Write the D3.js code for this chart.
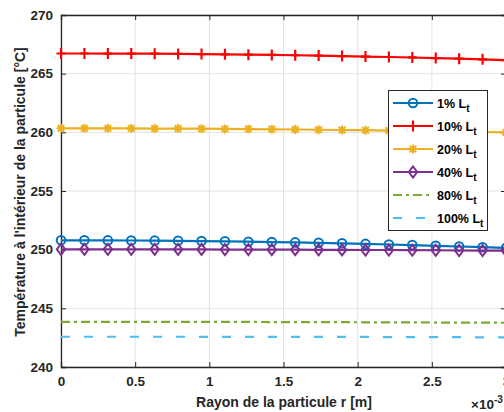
<!DOCTYPE html>
<html><head><meta charset="utf-8">
<script src="https://cdn.jsdelivr.net/npm/d3@7"></script>
<style>
html,body{margin:0;padding:0;background:#fff;}
svg{display:block;font-family:"Liberation Sans",Arial,sans-serif;}
</style></head>
<body><svg id="c" width="504" height="412"></svg>
<script>
const rValues = d3.range(20).map(i => i * 3e-3 / 19);
const xTicks = [0, 0.5e-3, 1e-3, 1.5e-3, 2e-3, 2.5e-3, 3e-3];
const xTickLabels = ["0", "0.5", "1", "1.5", "2", "2.5", "3"];
const yTicks = [240, 245, 250, 255, 260, 265, 270];
const seriesNames = ["1%", "10%", "20%", "40%", "80%", "100%"];
const s1 = [250.80,250.80,250.79,250.78,250.77,250.75,250.73,250.71,250.68,250.65,250.62,250.58,250.54,250.49,250.44,250.39,250.33,250.27,250.21,250.14];
const s10 = [266.72,266.72,266.71,266.71,266.70,266.68,266.67,266.65,266.62,266.60,266.57,266.54,266.50,266.46,266.42,266.38,266.33,266.28,266.22,266.15];
const s20 = [260.34,260.34,260.34,260.33,260.32,260.32,260.31,260.29,260.28,260.26,260.24,260.22,260.20,260.18,260.15,260.12,260.09,260.06,260.03,259.99];
const s40 = [250.03,250.03,250.03,250.03,250.03,250.02,250.02,250.01,250.01,250.00,250.00,249.99,249.98,249.97,249.97,249.96,249.95,249.93,249.92,249.91];
const s80 = [243.85,243.85,243.85,243.85,243.85,243.84,243.84,243.84,243.84,243.83,243.83,243.82,243.82,243.81,243.81,243.80,243.79,243.79,243.78,243.77];
const s100 = [242.58,242.58,242.58,242.58,242.58,242.58,242.57,242.57,242.57,242.57,242.57,242.56,242.56,242.56,242.55,242.55,242.54,242.54,242.53,242.53];

const series = [
  {name: seriesNames[0], values: s1, color: "#0072BD", marker: "o", dash: null},
  {name: seriesNames[1], values: s10, color: "#FF0000", marker: "+", dash: null},
  {name: seriesNames[2], values: s20, color: "#EDB120", marker: "*", dash: null},
  {name: seriesNames[3], values: s40, color: "#7E2F8E", marker: "d", dash: null},
  {name: seriesNames[4], values: s80, color: "#77AC30", marker: null, dash: "9,4,3,4"},
  {name: seriesNames[5], values: s100, color: "#4DBEEE", marker: null, dash: "9,14"}
];

const svg = d3.select("#c");
const L = 61, R = 506, T = 15, B = 367;
const x = d3.scaleLinear().domain([0, 3e-3]).range([L, R]);
const y = d3.scaleLinear().domain([240, 270]).range([B, T]);
const axisCol = "#262626";

// grid
const g = svg.append("g");
g.selectAll("line.gx").data(xTicks).enter().append("line")
  .attr("x1", d => x(d)).attr("x2", d => x(d)).attr("y1", T).attr("y2", B)
  .attr("stroke", "#e3e3e3").attr("stroke-width", 1);
g.selectAll("line.gy").data(yTicks).enter().append("line")
  .attr("x1", L).attr("x2", R).attr("y1", d => y(d)).attr("y2", d => y(d))
  .attr("stroke", "#e3e3e3").attr("stroke-width", 1);

// axes
const xAxisB = d3.axisBottom(x).tickValues(xTicks).tickSize(-5).tickPadding(9).tickFormat((d,i) => xTickLabels[i]);
const xAxisT = d3.axisTop(x).tickValues(xTicks).tickSize(-5).tickFormat("");
const yAxisL = d3.axisLeft(y).tickValues(yTicks).tickSize(-5).tickPadding(8);
const yAxisR = d3.axisRight(y).tickValues(yTicks).tickSize(-5).tickFormat("");
function styleAxis(sel){
  sel.select(".domain").attr("stroke", axisCol).attr("stroke-width", 1.3);
  sel.selectAll(".tick line").attr("stroke", axisCol).attr("stroke-width", 1);
  sel.selectAll(".tick text").attr("fill", axisCol).style("font-size", "13.5px").style("font-weight", "bold").style("font-family", '"Liberation Sans",Arial,sans-serif');
}
svg.append("g").attr("transform", `translate(0,${B})`).call(xAxisB).call(styleAxis);
svg.append("g").attr("transform", `translate(0,${T})`).call(xAxisT).call(styleAxis);
svg.append("g").attr("transform", `translate(${L},0)`).call(yAxisL).call(styleAxis);
svg.append("g").attr("transform", `translate(${R},0)`).call(yAxisR).call(styleAxis);
svg.selectAll(".domain").attr("d", function(){ return d3.select(this).attr("d").replace(/M[^H]*H/, m=>m); });

// lines
const line = d3.line().x((d,i) => x(rValues[i])).y(d => y(d));
function drawMarker(sel, type, color){
  if (type === "o") {
    sel.append("circle").attr("r", 4.3).attr("fill", "none").attr("stroke", color).attr("stroke-width", 2);
  } else if (type === "+") {
    sel.append("path").attr("d", "M-4.5,0H4.5M0,-5.5V5.5").attr("stroke", color).attr("stroke-width", 2.2).attr("fill", "none");
  } else if (type === "*") {
    sel.append("path").attr("d", "M-4.5,0H4.5M0,-4.5V4.5M-3.3,-3.3L3.3,3.3M-3.3,3.3L3.3,-3.3").attr("stroke", color).attr("stroke-width", 2).attr("fill", "none");
  } else if (type === "d") {
    sel.append("path").attr("d", "M0,-5.5L4.2,0L0,5.5L-4.2,0Z").attr("stroke", color).attr("stroke-width", 2).attr("fill", "none");
  }
}
const plot = svg.append("g");
series.forEach(s => {
  const p = plot.append("path").datum(s.values).attr("d", line)
    .attr("fill", "none").attr("stroke", s.color).attr("stroke-width", 2.2);
  if (s.dash) p.attr("stroke-dasharray", s.dash);
  if (s.marker) {
    plot.selectAll(null).data(s.values).enter().append("g")
      .attr("transform", (d,i) => `translate(${x(rValues[i])},${y(d)})`)
      .each(function(){ drawMarker(d3.select(this), s.marker, s.color); });
  }
});

// labels
svg.append("text").attr("x", 284).attr("y", 407).attr("text-anchor", "middle")
  .style("font-size", "14px").style("font-weight", "bold").attr("fill", axisCol)
  .text("Rayon de la particule r [m]");
svg.append("text").attr("transform", "translate(25,192) rotate(-90)").attr("text-anchor", "middle")
  .style("font-size", "14px").style("font-weight", "bold").attr("fill", axisCol)
  .text("Température à l'intérieur de la particule [°C]");
const ex = svg.append("text").attr("x", 471).attr("y", 409).style("font-size", "13.5px").style("font-weight", "bold").attr("fill", axisCol);
ex.append("tspan").text("×10");
ex.append("tspan").attr("dy", -6).style("font-size", "10px").text("-3");

// legend
const lg = svg.append("g");
lg.append("rect").attr("x", 388.5).attr("y", 90.5).attr("width", 99).attr("height", 140)
  .attr("fill", "#fff").attr("stroke", axisCol).attr("stroke-width", 1);
const legY = [103, 126, 149, 172, 195, 218];
series.forEach((s, i) => {
  const yy = legY[i];
  const l = lg.append("line").attr("x1", 393).attr("x2", 433).attr("y1", yy).attr("y2", yy)
    .attr("stroke", s.color).attr("stroke-width", 2.2);
  if (s.dash) l.attr("stroke-dasharray", s.dash);
  if (s.marker) drawMarker(lg.append("g").attr("transform", `translate(413,${yy})`), s.marker, s.color);
  const t = lg.append("text").attr("x", 437).attr("y", yy + 4.5)
    .style("font-size", "12.5px").style("font-weight", "bold").attr("fill", "#000");
  t.append("tspan").text(s.name + " L");
  t.append("tspan").attr("dy", 4).style("font-size", "10px").text("t");
});
</script></body></html>
